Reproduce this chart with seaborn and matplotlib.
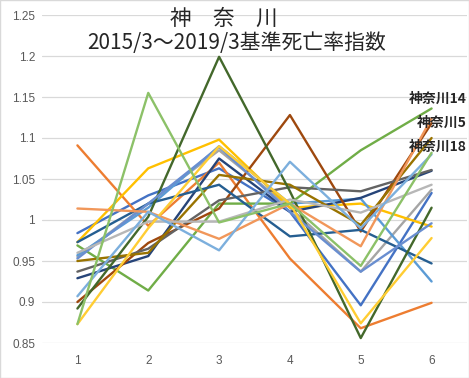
import numpy as np
import matplotlib
matplotlib.use('Agg')
import matplotlib.pyplot as plt
import pandas as pd
import seaborn as sns

# period index 1..6
periods = [1, 2, 3, 4, 5, 6]

# one list per series
s01 = [0.984, 1.030, 1.063, 1.010, 0.896, 1.033]
s02 = [1.091, 0.993, 1.070, 0.953, 0.868, 0.899]
s03 = [0.955, 1.020, 1.085, 1.015, 0.937, 1.037]
s04 = [0.973, 1.063, 1.098, 1.015, 1.020, 0.992]
s05 = [0.957, 1.015, 1.090, 1.020, 1.026, 0.925]
s06 = [0.969, 0.914, 1.020, 1.020, 1.085, 1.136]
s07 = [0.929, 0.956, 1.075, 1.010, 1.027, 1.060]
s08 = [0.900, 0.972, 1.014, 1.128, 0.986, 1.118]
s09 = [0.937, 0.965, 1.024, 1.040, 1.035, 1.061]
s10 = [0.950, 0.960, 1.055, 1.043, 0.994, 1.100]
s11 = [0.973, 1.020, 1.043, 0.980, 0.988, 0.947]
s12 = [0.892, 1.004, 1.199, 1.035, 0.856, 1.015]
s13 = [0.953, 1.020, 1.089, 1.010, 0.937, 0.996]
s14 = [1.014, 1.010, 0.977, 1.020, 0.968, 1.124]
s15 = [0.960, 0.998, 0.998, 1.025, 1.009, 1.043]
s16 = [0.873, 0.990, 1.090, 1.020, 0.874, 0.978]
s17 = [0.907, 1.010, 0.963, 1.071, 0.990, 1.080]
s18 = [0.873, 1.155, 0.997, 1.020, 0.944, 1.082]

series = [s01, s02, s03, s04, s05, s06, s07, s08, s09,
          s10, s11, s12, s13, s14, s15, s16, s17, s18]
names = ['神奈川%d' % (i + 1) for i in range(len(series))]

colors = ['#4472C4', '#ED7D31', '#A5A5A5', '#FFC000', '#5B9BD5', '#70AD47',
          '#264478', '#9E480E', '#636363', '#997300', '#255E91', '#43682B',
          '#698ED0', '#F1975A', '#B7B7B7', '#FFCD33', '#7CAFDD', '#8CC168']

title1 = '神　奈　川'
title2 = '2015/3～2019/3基準死亡率指数'
callouts = ['神奈川14', '神奈川5', '神奈川18']
callout_y = [1.148, 1.118, 1.089]

rows = []
for name, vals in zip(names, series):
    for p, v in zip(periods, vals):
        rows.append({'series': name, 'period': p, 'value': v})
df = pd.DataFrame(rows)

sns.set_style('white')
plt.rcParams['font.family'] = ['Noto Sans CJK JP', 'DejaVu Sans']

fig = plt.figure(figsize=(4.69, 3.78), dpi=100)
ax = fig.add_axes([42 / 469, 35 / 378, 425 / 469, 328 / 378])

sns.lineplot(data=df, x='period', y='value', hue='series',
             palette=dict(zip(names, colors)), linewidth=1.7,
             legend=False, ax=ax)

ax.set_xlim(0.5, 6.5)
ax.set_ylim(0.85, 1.25)
ax.set_xticks(periods)
ax.set_yticks([0.85, 0.9, 0.95, 1.0, 1.05, 1.1, 1.15, 1.2, 1.25])
ax.set_yticklabels(['0.85', '0.9', '0.95', '1', '1.05', '1.1', '1.15', '1.2', '1.25'])
ax.yaxis.grid(True, color='#D9D9D9', linewidth=0.9)
ax.set_axisbelow(True)
for sp in ax.spines.values():
    sp.set_visible(False)
ax.tick_params(axis='both', length=0, labelsize=8.5, colors='#595959')
ax.tick_params(axis='x', pad=9)
ax.tick_params(axis='y', pad=5)
for lab in ax.get_xticklabels() + ax.get_yticklabels():
    lab.set_family(['Liberation Sans', 'DejaVu Sans'])
ax.set_xlabel('')
ax.set_ylabel('')

fig.text(224 / 469, 1 - 19 / 378, title1, ha='center', va='center', fontsize=15.5)
fig.text(237 / 469, 1 - 43 / 378, title2, ha='center', va='center', fontsize=15)

for txt, yv in zip(callouts, callout_y):
    ax.text(6.5, yv, txt, ha='right', va='center', fontsize=10, fontweight='bold')

fig.add_artist(plt.Rectangle((0, 0), 1, 1, transform=fig.transFigure,
                             fill=False, edgecolor='#D9D9D9', linewidth=1))

fig.savefig('out.png', dpi=100)
